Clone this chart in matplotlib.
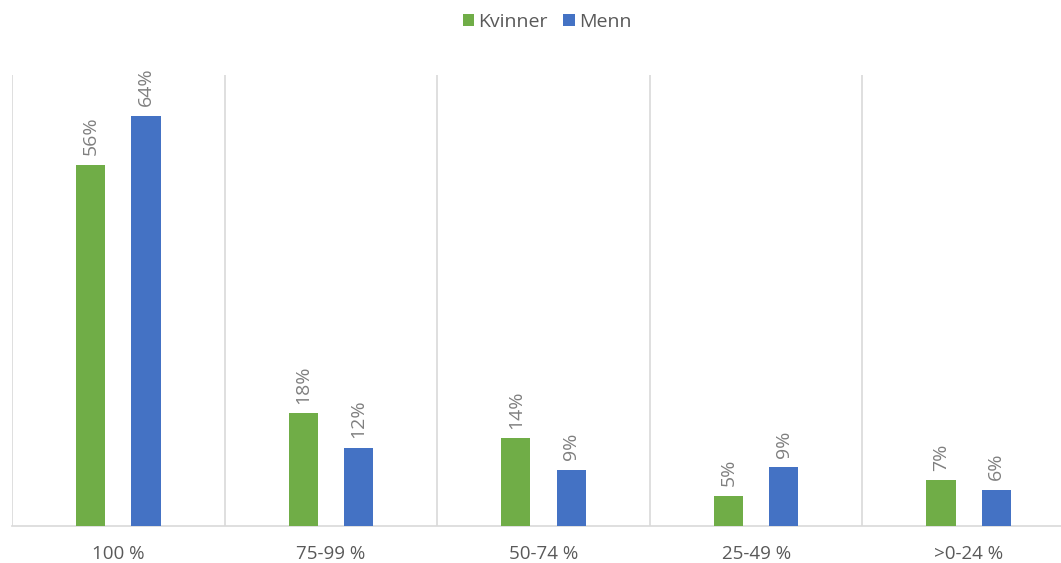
import matplotlib.pyplot as plt
import numpy as np

categories = ['100 %', '75-99 %', '50-74 %', '25-49 %', '>0-24 %']
kvinner = [56.0, 17.5, 13.6, 4.7, 7.1]
menn = [63.7, 12.1, 8.7, 9.1, 5.6]

green = '#70AD47'
blue = '#4472C4'
font = ['Open Sans', 'DejaVu Sans']

fig = plt.figure(figsize=(10.61, 5.63), dpi=100)
# plot area runs a bit past the right edge in the original
ax = fig.add_axes([12 / 1061, 37 / 563, 1063 / 1061, 451 / 563])

x = np.arange(len(categories))
w = 0.137
off = 0.13
b1 = ax.bar(x - off, kvinner, w, color=green, label='Kvinner', zorder=3)
b2 = ax.bar(x + off, menn, w, color=blue, label='Menn', zorder=3)

for bars, vals in ((b1, kvinner), (b2, menn)):
    for b, v in zip(bars, vals):
        ax.annotate('%d%%' % round(v), (b.get_x() + b.get_width() / 2, v),
                    xytext=(0, 7), textcoords='offset points',
                    rotation=90, ha='center', va='bottom',
                    fontsize=14, color='#7f7f7f', family=font)

ax.set_xlim(-0.5, len(categories) - 0.5)
ax.set_ylim(0, 70)

# category separators
for s in np.arange(-0.5, len(categories), 1.0):
    ax.axvline(s, color='#d9d9d9', lw=1.2, zorder=1)

for sp in ['top', 'right', 'left']:
    ax.spines[sp].set_visible(False)
ax.spines['bottom'].set_color('#d9d9d9')
ax.spines['bottom'].set_linewidth(1.2)

ax.set_yticks([])
ax.set_xticks(x)
ax.set_xticklabels(categories, fontsize=13.5, color='#595959', family=font)
ax.tick_params(axis='x', length=0, pad=14)

fig.legend(handles=[b1, b2], loc='center', bbox_to_anchor=(547 / 1061, 1 - 22 / 563),
           ncol=2, frameon=False, handlelength=0.6, handleheight=0.6,
           handletextpad=0.2, columnspacing=0.8,
           prop={'family': font, 'size': 14}, labelcolor='#595959')

fig.savefig('out.png', dpi=100)
